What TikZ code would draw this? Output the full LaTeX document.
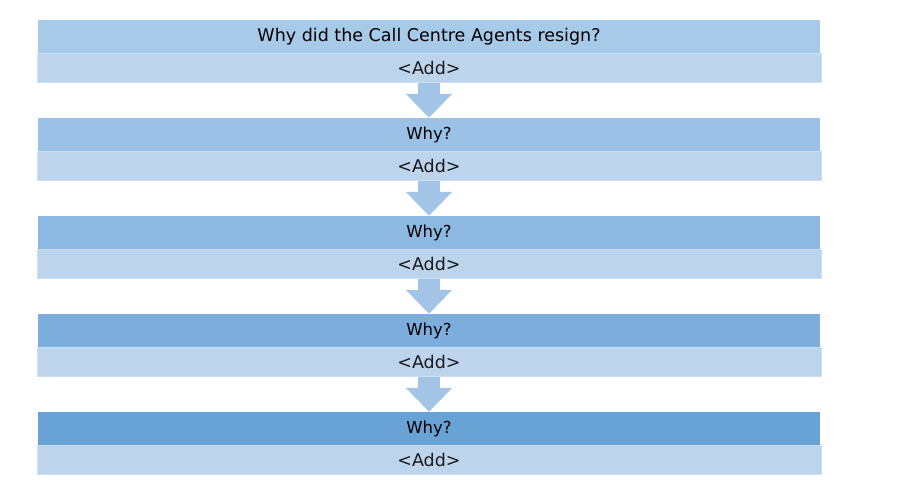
\documentclass[tikz,border=0pt]{standalone}
\usepackage{fontspec}
\setmainfont{DejaVu Sans}
\usepackage{xcolor}
\usepackage{tikz}
\usetikzlibrary{arrows.meta}

\definecolor{whyA}{HTML}{A8CAE9}
\definecolor{whyB}{HTML}{9BC2E6}
\definecolor{whyC}{HTML}{8CB8E1}
\definecolor{whyD}{HTML}{7CADDC}
\definecolor{whyE}{HTML}{69A3D6}
\definecolor{addfill}{HTML}{BDD5EC}
\definecolor{addline}{HTML}{CCDEF0}
\definecolor{arrowblue}{HTML}{A2C5E7}

\begin{document}
\begin{tikzpicture}[x=1pt, y=-1pt,
  whybox/.style={rectangle, inner sep=0pt, minimum width=782pt, minimum height=33pt, text=black, font=\fontsize{16.5}{19}\selectfont},
  addbox/.style={rectangle, inner sep=0pt, fill=addfill, draw=addline, line width=1pt, minimum width=784pt, minimum height=29pt, text=black!90, font=\fontsize{17.5}{20}\selectfont},
  downarrow/.style={draw=arrowblue, line width=22pt, -{Triangle[width=45pt, length=24pt]}, arrowblue}]

\useasboundingbox (0,0) rectangle (910,494);

\node[whybox, fill=whyA, font=\fontsize{17.5}{20}\selectfont] at (429, 36.5) (q1) {Why did the Call Centre Agents resign?};
\node[addbox] at (429, 68) (a1) {<Add>};
\node[whybox, fill=whyB] at (429, 134.5) (q2) {Why?};
\node[addbox] at (429, 166) (a2) {<Add>};
\node[whybox, fill=whyC] at (429, 232.5) (q3) {Why?};
\node[addbox] at (429, 264) (a3) {<Add>};
\node[whybox, fill=whyD] at (429, 330.5) (q4) {Why?};
\node[addbox] at (429, 362) (a4) {<Add>};
\node[whybox, fill=whyE] at (429, 428.5) (q5) {Why?};
\node[addbox] at (429, 460) (a5) {<Add>};

\draw[downarrow] (a1.south) -- (q2.north);
\draw[downarrow] (a2.south) -- (q3.north);
\draw[downarrow] (a3.south) -- (q4.north);
\draw[downarrow] (a4.south) -- (q5.north);

\end{tikzpicture}
\end{document}
